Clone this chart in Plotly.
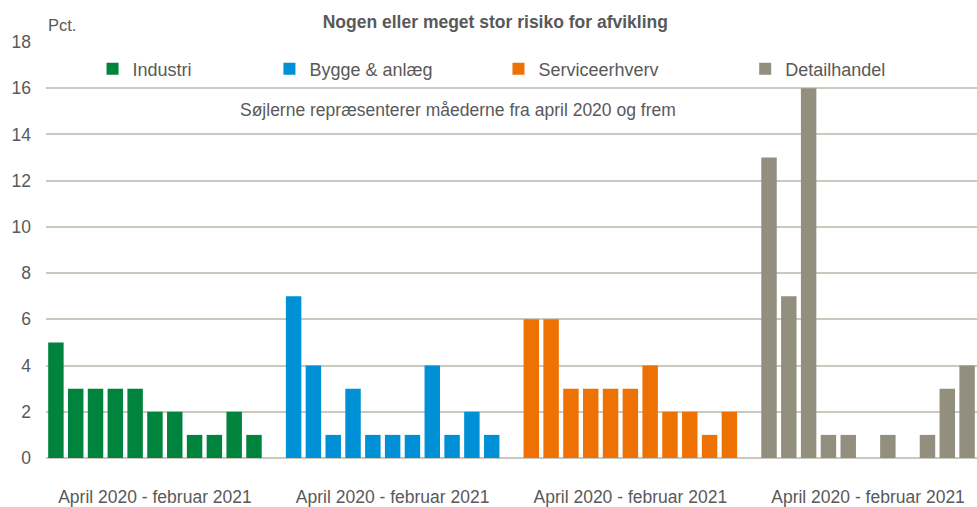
import plotly.graph_objects as go

months = ["apr 2020", "maj 2020", "jun 2020", "jul 2020", "aug 2020", "sep 2020",
          "okt 2020", "nov 2020", "dec 2020", "jan 2021", "feb 2021"]
groups = ["Industri", "Bygge & anlæg", "Serviceerhverv", "Detailhandel"]
industri = [5, 3, 3, 3, 3, 2, 2, 1, 1, 2, 1]
bygge = [7, 4, 1, 3, 1, 1, 1, 4, 1, 2, 1]
service = [6, 6, 3, 3, 3, 3, 4, 2, 2, 1, 2]
detail = [13, 7, 16, 1, 1, 0, 1, 0, 1, 3, 4]
values = [industri, bygge, service, detail]
colors = ["#00833D", "#0090D5", "#EE7203", "#928F7E"]
group_label = "April 2020 - februar 2021"
legend_x = [0.050, 0.240, 0.486, 0.751]

FONT = "Liberation Sans, Arial, sans-serif"
TXT = "#595959"

# category order with an empty slot between groups
cat_order = []
for gi, g in enumerate(groups):
    cat_order += [f"{g}|{m}" for m in months]
    if gi < len(groups) - 1:
        cat_order.append(f"gap{gi}")

fig = go.Figure()
for gi, g in enumerate(groups):
    lg = "legend" if gi == 0 else f"legend{gi + 1}"
    fig.add_trace(go.Bar(
        x=[f"{g}|{m}" for m in months], y=values[gi], name=g,
        marker=dict(color=colors[gi], line=dict(width=0)),
        legend=lg, showlegend=True,
    ))

tickvals = [f"{g}|{months[5]}" for g in groups]
fig.update_xaxes(
    type="category", categoryorder="array", categoryarray=cat_order,
    tickvals=tickvals, ticktext=[group_label] * 4,
    showgrid=False, showline=False, zeroline=False, ticks="",
    ticklabelstandoff=26,
    tickfont=dict(family=FONT, size=17.5, color=TXT),
)
fig.update_yaxes(
    range=[0, 18], dtick=2, showgrid=True, gridcolor="#C9C9BD", gridwidth=1.5,
    zeroline=True, zerolinecolor="#C9C9BD", zerolinewidth=1.5,
    showline=False, ticks="", ticklabelstandoff=14,
    tickfont=dict(family=FONT, size=17.5, color=TXT),
)

layout_legends = {}
for gi in range(4):
    key = "legend" if gi == 0 else f"legend{gi + 1}"
    layout_legends[key] = dict(
        x=legend_x[gi], xanchor="left", y=0.935, yanchor="middle",
        orientation="h", bgcolor="rgba(0,0,0,0)",
        font=dict(family=FONT, size=18, color=TXT),
        itemwidth=30,
    )

fig.update_layout(
    width=977, height=507,
    margin=dict(l=46, r=0, t=42, b=47),
    plot_bgcolor="white", paper_bgcolor="white",
    barmode="overlay", bargap=0.22,
    showlegend=True,
    title=dict(text="<b>Nogen eller meget stor risiko for afvikling</b>",
               x=0.507, xanchor="center", y=0.957, yanchor="middle",
               font=dict(family=FONT, size=17.5, color=TXT)),
    annotations=[
        dict(text="Pct.", xref="paper", yref="paper", x=0.0, y=1.0,
             xanchor="left", yanchor="bottom", yshift=6, showarrow=False,
             font=dict(family=FONT, size=16.5, color=TXT)),
        dict(text="Søjlerne repræsenterer måederne fra april 2020 og frem",
             xref="paper", yref="paper", x=0.4425, y=0.837,
             xanchor="center", yanchor="middle", showarrow=False,
             font=dict(family=FONT, size=17.5, color=TXT)),
    ],
    **layout_legends,
)

fig.write_html("out.html", config={"displayModeBar": False},
               post_script="document.body.style.margin='0';")
